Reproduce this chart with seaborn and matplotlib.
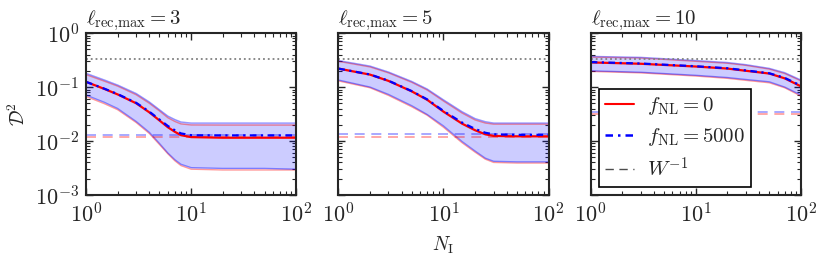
import numpy as np
import pandas as pd
import matplotlib
matplotlib.use("Agg")
import matplotlib.pyplot as plt
import seaborn as sns
from matplotlib.lines import Line2D

# ---- data ----
lmax_vals = [3, 5, 10]

# l_rec,max = 3
n1 = [1, 1.5, 2, 3, 4, 5, 6, 7, 8, 10, 20, 50, 100]
mean0_1 = [0.125, 0.092, 0.073, 0.05, 0.034, 0.024, 0.018, 0.0148, 0.0128, 0.0118, 0.0115, 0.0115, 0.0115]
mean5k_1 = [0.125, 0.093, 0.074, 0.051, 0.035, 0.025, 0.019, 0.0158, 0.0138, 0.0128, 0.0127, 0.0127, 0.0127]
up5k_1 = [0.18, 0.135, 0.109, 0.076, 0.053, 0.038, 0.029, 0.025, 0.0225, 0.0215, 0.0215, 0.0215, 0.0215]
lo5k_1 = [0.071, 0.052, 0.040, 0.023, 0.0145, 0.009, 0.006, 0.0045, 0.0037, 0.0032, 0.0031, 0.0031, 0.0030]
up0_1 = [0.17, 0.128, 0.104, 0.072, 0.05, 0.036, 0.027, 0.023, 0.0207, 0.0198, 0.0197, 0.0197, 0.0197]
lo0_1 = [0.067, 0.049, 0.038, 0.022, 0.0138, 0.0086, 0.0058, 0.0043, 0.0035, 0.0030, 0.0029, 0.0029, 0.0029]

# l_rec,max = 5
n2 = [1, 2, 3, 5, 7, 10, 15, 20, 25, 30, 50, 100]
mean0_2 = [0.22, 0.17, 0.13, 0.083, 0.058, 0.035, 0.021, 0.0158, 0.0133, 0.0124, 0.0122, 0.0122]
mean5k_2 = [0.22, 0.171, 0.131, 0.084, 0.059, 0.036, 0.022, 0.0167, 0.0142, 0.0133, 0.013, 0.013]
up5k_2 = [0.31, 0.245, 0.19, 0.127, 0.092, 0.058, 0.035, 0.026, 0.0228, 0.0215, 0.0215, 0.0215]
lo5k_2 = [0.135, 0.10, 0.073, 0.045, 0.031, 0.019, 0.0098, 0.0065, 0.0048, 0.0042, 0.0041, 0.0041]
up0_2 = [0.30, 0.236, 0.183, 0.122, 0.088, 0.055, 0.033, 0.0245, 0.0215, 0.0205, 0.0205, 0.0205]
lo0_2 = [0.13, 0.097, 0.07, 0.043, 0.03, 0.018, 0.0093, 0.0062, 0.0046, 0.004, 0.0039, 0.0039]

# l_rec,max = 10
n3 = [1, 3, 10, 20, 30, 50, 70, 100]
mean0_3 = [0.286, 0.27, 0.24, 0.22, 0.2, 0.178, 0.145, 0.103]
mean5k_3 = [0.29, 0.273, 0.243, 0.223, 0.203, 0.18, 0.148, 0.106]
up5k_3 = [0.37, 0.355, 0.31, 0.285, 0.26, 0.222, 0.185, 0.135]
lo5k_3 = [0.2, 0.188, 0.165, 0.15, 0.138, 0.125, 0.1, 0.071]
up0_3 = [0.36, 0.345, 0.3, 0.276, 0.252, 0.215, 0.178, 0.13]
lo0_3 = [0.195, 0.183, 0.16, 0.145, 0.133, 0.12, 0.097, 0.068]

# W^-1 levels (f_NL=0, f_NL=5000) and dotted reference level
winv0 = [0.0117, 0.0121, 0.032]
winv5k = [0.0128, 0.0133, 0.034]
dotted_level = 0.33

panels = [
    (n1, mean0_1, mean5k_1, up5k_1, lo5k_1, up0_1, lo0_1),
    (n2, mean0_2, mean5k_2, up5k_2, lo5k_2, up0_2, lo0_2),
    (n3, mean0_3, mean5k_3, up5k_3, lo5k_3, up0_3, lo0_3),
]

sns.set_style("ticks")
plt.rcParams["mathtext.fontset"] = "cm"
plt.rcParams["font.family"] = ["cmr10", "DejaVu Serif"]
plt.rcParams["axes.formatter.use_mathtext"] = True
plt.rcParams["font.size"] = 12

fig, axes = plt.subplots(1, 3, figsize=(8.3, 2.67), dpi=100, sharey=True)
fig.subplots_adjust(left=0.1036, right=0.965, top=0.876, bottom=0.27, wspace=0.2)

for i, ax in enumerate(axes):
    n, m0, m5, u5, l5, u0, l0 = panels[i]
    df = pd.DataFrame({"N": n * 2, "D2": m0 + m5,
                       "case": ["0"] * len(n) + ["5000"] * len(n)})

    ax.fill_between(n, l5, u5, facecolor="blue", alpha=0.2, lw=0)
    ax.plot(n, u5, color="blue", alpha=0.4, lw=1)
    ax.plot(n, l5, color="blue", alpha=0.4, lw=1)
    ax.plot(n, u0, color="red", alpha=0.4, lw=1, zorder=1.9)
    ax.plot(n, l0, color="red", alpha=0.4, lw=1, zorder=1.9)

    ax.axhline(winv5k[i], color="blue", ls="--", dashes=(6, 4), lw=1.2, alpha=0.4)
    ax.axhline(winv0[i], color="red", ls="--", dashes=(6, 4), lw=1.2, alpha=0.4)
    ax.axhline(dotted_level, color="grey", ls=":", lw=1.3)

    sns.lineplot(data=df[df.case == "0"], x="N", y="D2", ax=ax, color="red",
                 lw=1.6, legend=False)
    sns.lineplot(data=df[df.case == "5000"], x="N", y="D2", ax=ax, color="blue",
                 lw=1.6, dashes=False, legend=False).lines[-1].set_dashes((3, 2, 1, 2))

    ax.set_xscale("log")
    ax.set_yscale("log")
    ax.set_xlim(1, 100)
    ax.set_ylim(1e-3, 1)
    ax.set_xlabel("")
    ax.set_ylabel("")
    ax.tick_params(which="both", direction="in", top=True, right=True)
    ax.tick_params(which="major", length=5, width=1, labelsize=16, pad=5)
    ax.tick_params(which="minor", length=3, width=0.8)
    for sp in ax.spines.values():
        sp.set_linewidth(1.5)
    ax.set_title(r"$\ell_{\rm rec{,}max}=%d$" % lmax_vals[i], loc="left",
                 fontsize=15, pad=3)
    if i > 0:
        ax.tick_params(labelleft=False)

axes[0].set_ylabel(r"$\mathcal{D}^2$", fontsize=14)
axes[1].set_xlabel(r"$N_{\rm I}$", fontsize=14, labelpad=6)

handles = [
    Line2D([], [], color="red", lw=1.5),
    Line2D([], [], color="blue", lw=1.8, dashes=(3, 2, 1, 2)),
    Line2D([], [], color="black", lw=1, ls="--", dashes=(6, 4), alpha=0.7),
]
labels = [r"$f_{\rm NL}=0$", r"$f_{\rm NL}=5000$", r"$W^{-1}$"]
leg = axes[2].legend(handles, labels, loc="lower left", fontsize=15,
                     frameon=True, fancybox=False, framealpha=1,
                     edgecolor="black", labelspacing=0.4, borderpad=0.3,
                     handlelength=1.4, handletextpad=0.6, borderaxespad=0.4)
leg.get_frame().set_linewidth(1.2)

fig.savefig("out.png", dpi=100)
